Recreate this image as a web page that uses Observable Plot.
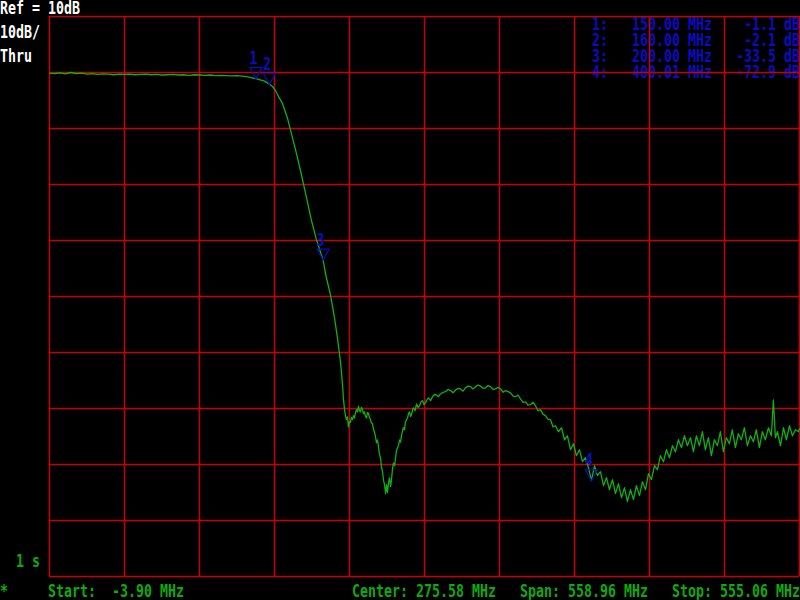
<!DOCTYPE html>
<html><head><meta charset="utf-8">
<script src="https://cdn.jsdelivr.net/npm/d3@7"></script>
<script src="https://cdn.jsdelivr.net/npm/@observablehq/plot@0.6"></script>
<style>
html,body{margin:0;padding:0;background:#000;}
#chart{position:relative;width:800px;height:600px;overflow:hidden;}
svg{display:block;}
</style></head><body><div id="chart"></div>
<script>
// ---- data: [frequency MHz, transmission dB] ----
const passbandPts = [[-3.9,-0.1],[0,-0.2],[4,-0.05],[8,-0.25],[12,0.0],[16,-0.2],[20,-0.1],[24,-0.3],[28,-0.2],[32,-0.35],[36,-0.25],[40,-0.3],[44,-0.4],[48,-0.3],[52,-0.35],[56,-0.3],[60,-0.4],[64,-0.35],[68,-0.3],[72,-0.4],[76,-0.35],[80,-0.45],[84,-0.4],[88,-0.35],[92,-0.45],[96,-0.4],[100,-0.5],[104,-0.4],[108,-0.45],[112,-0.5],[116,-0.45],[120,-0.55],[124,-0.5],[128,-0.55],[132,-0.6],[136,-0.55],[140,-0.65],[144,-0.8],[147,-0.95]];
const skirtPts = [[150,-1.1],[153,-1.3],[156,-1.5],[158,-1.8],[160,-2.1],[162.3,-2.5],[164.5,-3.2],[166.8,-4.3],[169.7,-5.5],[173.5,-8.2],[176.4,-10.9],[180.1,-14.4],[183.9,-18.3],[187.6,-22.3],[191.3,-26.4],[195.1,-29.9],[200,-33.5],[202.5,-36.7],[205.5,-39.7],[208.5,-43.8],[210.7,-47.4],[213.0,-51.7],[214.5,-55.8],[215.2,-58.4],[216.0,-60.2],[216.7,-61.3],[217.4,-62.0]];
const notchPts = [[218.2,-61.5],[218.9,-63.3],[219.6,-62.4],[220.4,-62.5],[221.1,-61.6],[221.9,-62.0],[222.6,-61.3],[223.4,-61.7],[224.1,-60.8],[224.9,-60.2],[225.6,-60.6],[226.4,-59.6],[227.1,-60.4],[227.9,-60.6],[228.6,-59.8],[229.4,-60.2],[230.1,-60.9],[230.9,-60.6],[231.6,-61.4],[232.4,-61.7],[233.1,-60.7],[233.8,-60.9],[234.6,-61.6],[235.3,-62.0],[236.1,-62.6],[236.8,-62.7],[237.6,-63.8],[238.3,-64.2],[239.0,-65.0],[239.8,-66.1],[240.5,-65.6],[241.3,-66.8],[242.0,-68.2],[242.8,-68.8],[243.5,-70.4],[244.3,-71.3],[245.0,-72.8],[245.8,-73.6],[246.6,-75.2],[247.3,-73.6],[248.0,-75.0],[248.8,-73.2],[249.5,-72.4],[250.3,-73.9],[251.0,-72.7],[251.8,-70.6],[252.5,-69.7],[253.3,-70.2],[254.0,-68.8],[254.8,-67.4],[255.5,-67.0],[256.3,-66.5],[257.0,-65.6],[257.7,-66.0],[258.4,-64.9],[259.2,-64.0],[259.9,-63.4],[260.7,-63.8],[261.4,-62.4],[262.2,-62.0],[262.9,-61.7],[263.7,-60.9],[264.4,-60.6],[265.2,-61.4],[265.9,-61.1],[266.7,-60.2],[267.4,-59.9]];
const humpPts = [[268.5,-60.4],[269.7,-59.2],[270.8,-59.8],[271.9,-59.5],[273.0,-58.8],[274.1,-58.6],[275.2,-59.3],[276.3,-59.0],[277.5,-58.4],[278.6,-58.1],[280.1,-58.6],[281.6,-57.9],[283.0,-57.5],[284.5,-57.6],[286.0,-57.9],[287.5,-57.4],[289.4,-57.1],[291.2,-57.0],[293.1,-56.6],[295.0,-56.8],[296.9,-57.2],[298.7,-56.7],[300.6,-56.4],[302.4,-56.5],[304.3,-56.9],[306.1,-56.3],[308.0,-56.0],[309.9,-56.1],[311.7,-56.5],[313.6,-56.1],[315.5,-55.8],[317.3,-56.0],[319.2,-56.4],[321.1,-56.3],[322.9,-55.9],[324.8,-56.1],[326.7,-56.6],[328.5,-56.5],[330.4,-56.2],[332.2,-56.5],[334.1,-57.1],[336.0,-56.8],[337.8,-57.0],[339.7,-57.2],[341.6,-57.8],[343.4,-57.9],[345.3,-57.6],[347.1,-58.3],[349.0,-58.9],[350.9,-58.8],[352.7,-59.4],[354.6,-59.3],[356.5,-58.9],[358.3,-59.5],[360.2,-60.4],[362.0,-60.2],[363.9,-61.0],[365.8,-61.3],[367.6,-61.9],[369.5,-62.0],[371.4,-63.3],[373.2,-63.08]];
const tailPts = [[375.4,-64.15],[377.7,-63.44],[379.9,-65.58],[382.1,-64.87],[384.4,-67.36],[386.6,-66.29],[388.8,-68.43],[391.1,-67.36],[393.3,-69.5],[395.5,-68.79],[397.8,-70.57],[400.01,-72.9],[402.3,-70.21],[404.5,-71.99],[406.7,-71.28],[409.0,-73.77],[411.2,-72.35],[413.4,-74.49],[415.7,-72.71],[417.9,-75.2],[420.1,-73.42],[422.4,-75.92],[424.6,-74.13],[426.8,-76.63],[429.1,-74.49],[431.3,-76.27],[433.5,-73.77],[435.8,-75.56],[438.0,-73.06],[440.3,-74.49],[442.5,-71.64],[444.7,-72.71],[447.0,-70.21],[449.2,-70.93],[451.4,-68.43],[453.7,-69.5],[455.9,-67.36],[458.1,-68.79],[460.4,-66.65],[462.6,-67.72],[464.8,-65.58],[467.1,-67.0],[469.3,-64.87],[471.5,-66.65],[473.8,-65.22],[476.0,-67.72],[478.2,-64.87],[480.5,-66.65],[482.7,-64.15],[484.9,-67.36],[487.2,-65.22],[489.4,-68.43],[491.6,-65.58],[493.9,-66.65],[496.1,-64.15],[498.3,-67.72],[500.6,-65.22],[502.8,-66.29],[505.0,-63.8],[507.3,-67.0],[509.5,-64.51],[511.7,-65.58],[514.0,-63.44],[516.2,-66.65],[518.5,-64.87],[520.7,-65.94],[522.9,-63.8],[525.2,-67.0],[527.4,-64.15],[529.6,-65.58],[531.9,-63.44],[534.1,-64.87],[535.6,-58.45],[537.1,-65.22],[538.6,-64.15],[540.9,-66.65],[543.1,-63.44],[545.3,-65.58],[547.6,-63.08],[549.8,-64.87],[552.0,-63.8],[554.3,-64.15],[555.06,-63.6]];

const markerIds = [1, 2, 3, 4];
const markerFreqMHz = [150.00, 160.00, 200.00, 400.01];
const markerGainDB = [-1.1, -2.1, -33.5, -72.9];

const startMHz = -3.90, centerMHz = 275.58, spanMHz = 558.96, stopMHz = 555.06;
const refDB = 10, dbPerDiv = 10, divisions = 10;
const headerLines = ["Ref = 10dB", "10dB/", "Thru"];
const sweepLabel = "1 s";

// ---- colours ----
const RED = "#c80000", GREEN = "#12b012", TEXTGREEN = "#10a810", BLUE = "#0c0cc0", WHITE = "#ffffff";

const trace = [...passbandPts, ...skirtPts, ...notchPts, ...humpPts, ...tailPts].map(([f, db]) => ({f, db}));
const markers = markerIds.map((id, i) => ({id, f: markerFreqMHz[i], db: markerGainDB[i]}));
const gridF = d3.range(divisions + 1).map(i => startMHz + i * spanMHz / divisions);
const gridDB = d3.range(divisions + 1).map(i => refDB - i * dbPerDiv);

const downTri = {draw(ctx) { ctx.moveTo(-6, -11); ctx.lineTo(6, -11); ctx.lineTo(0, 0); ctx.closePath(); }};

const plot = Plot.plot({
  width: 800, height: 600,
  marginLeft: 49, marginRight: 1, marginTop: 16, marginBottom: 24,
  style: {background: "#000", overflow: "visible"},
  x: {domain: [startMHz, stopMHz], axis: null},
  y: {domain: [refDB - divisions * dbPerDiv, refDB], axis: null},
  marks: [
    Plot.ruleX(gridF, {stroke: RED, strokeWidth: 1.5}),
    Plot.ruleY(gridDB, {stroke: RED, strokeWidth: 1.5}),
    Plot.line(trace, {x: "f", y: "db", stroke: GREEN, strokeWidth: 1.3}),
    Plot.dot(markers, {x: "f", y: "db", symbol: downTri, stroke: BLUE, fill: "none", strokeWidth: 1.2})
  ]
});
document.getElementById("chart").appendChild(plot);

const svg = d3.select(plot);
const sx = plot.scale("x"), sy = plot.scale("y");
const CW = 8; // character cell width
function addText(g, str, px, py, color, anchor = "start") {
  g.append("text").attr("x", px).attr("y", py).attr("fill", color)
    .attr("text-anchor", anchor)
    .attr("textLength", str.length * CW).attr("lengthAdjust", "spacingAndGlyphs")
    .style("white-space", "pre")
    .text(str);
}
// texts under grid (marker table)
const under = svg.insert("g", "g")
  .attr("font-family", "'DejaVu Sans Mono', monospace").attr("font-size", 18).attr("font-weight", "bold");
markers.forEach((m, i) => {
  const base = 30 + i * 16;
  addText(under, `${m.id}:`, 74 * CW, base, BLUE);
  addText(under, `${m.f.toFixed(2)} MHz`, 79 * CW, base, BLUE);
  addText(under, `${m.db.toFixed(1)} dB`, 100 * CW, base, BLUE, "end");
});
const over = svg.append("g")
  .attr("font-family", "'DejaVu Sans Mono', monospace").attr("font-size", 18).attr("font-weight", "bold");
headerLines.forEach((s, i) => addText(over, s, 0, 14 + i * 24, WHITE));
addText(over, sweepLabel, 2 * CW, 567, TEXTGREEN);
addText(over, "*", 0, 597, TEXTGREEN);
addText(over, `Start:  ${startMHz.toFixed(2)} MHz`, 6 * CW, 597, TEXTGREEN);
addText(over, `Center: ${centerMHz.toFixed(2)} MHz`, 44 * CW, 597, TEXTGREEN);
addText(over, `Span: ${spanMHz.toFixed(2)} MHz`, 65 * CW, 597, TEXTGREEN);
addText(over, `Stop: ${stopMHz.toFixed(2)} MHz`, 84 * CW, 597, TEXTGREEN);
// marker numbers above the triangles
markers.forEach(m => {
  addText(over, String(m.id), sx.apply(m.f) - 2, sy.apply(m.db) - 14, BLUE, "middle");
});
</script></body></html>
